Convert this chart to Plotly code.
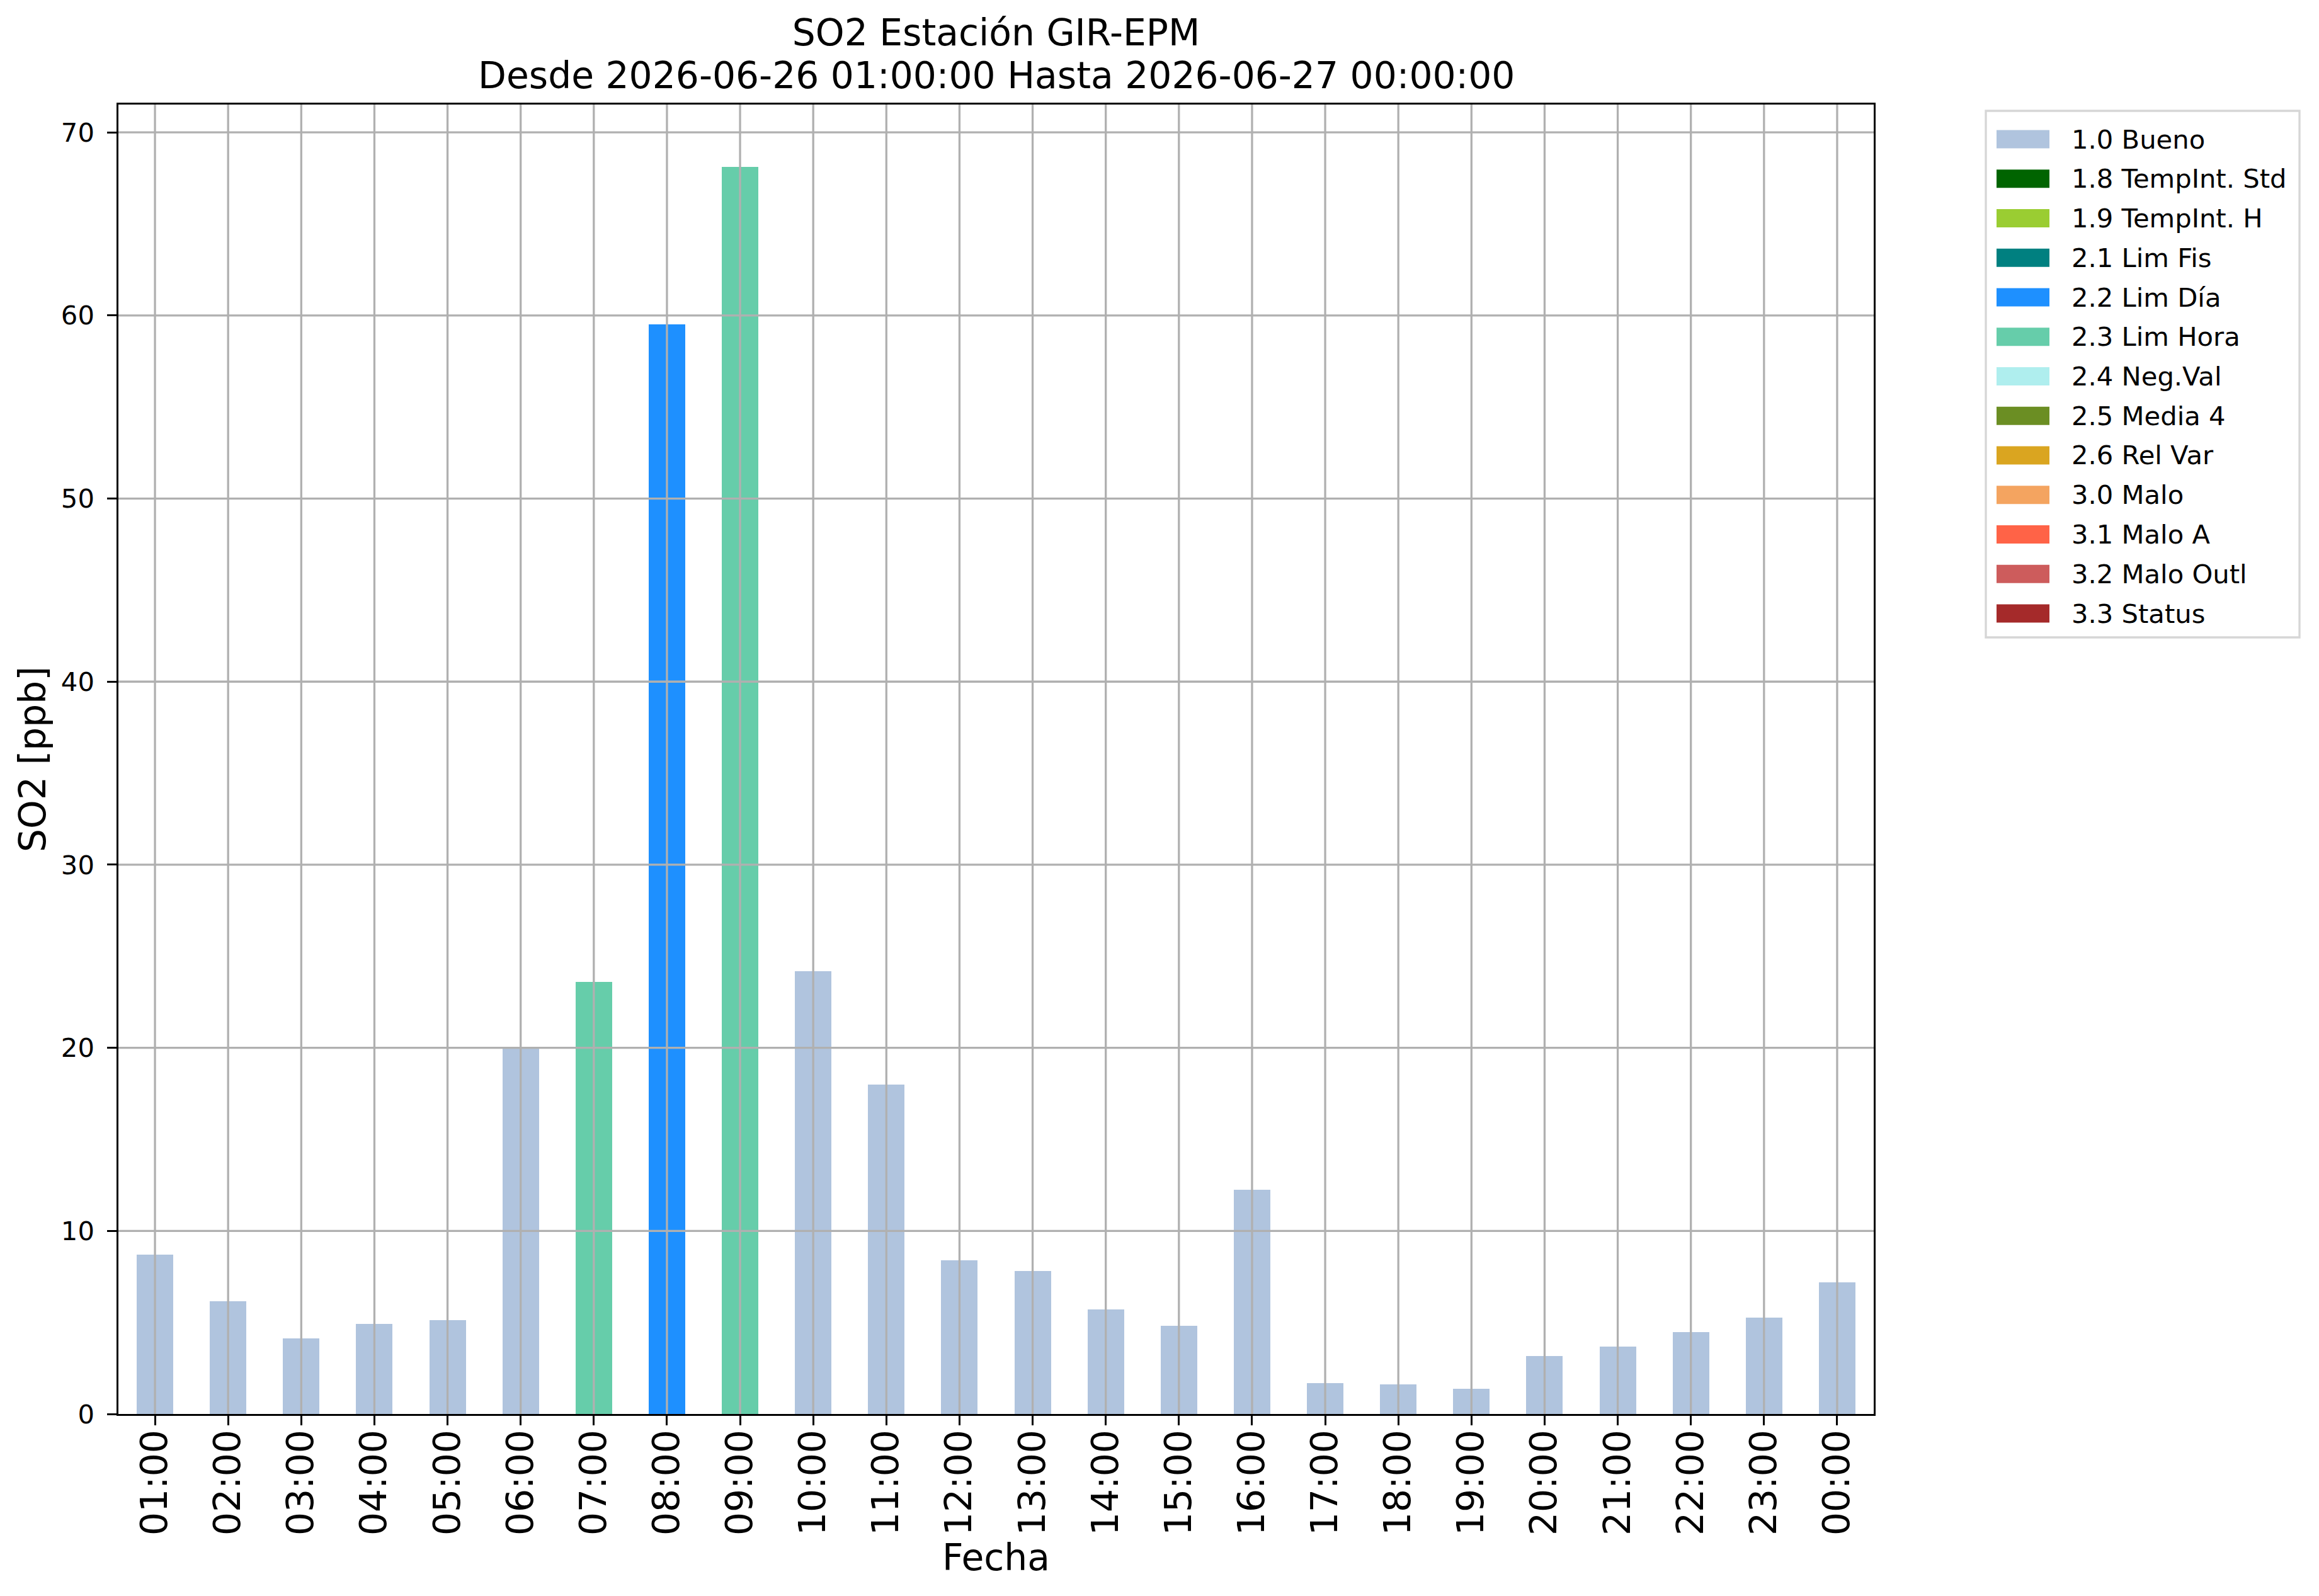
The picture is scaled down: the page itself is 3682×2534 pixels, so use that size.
import plotly.graph_objects as go

# ---------------- data ----------------
hours = ["01:00", "02:00", "03:00", "04:00", "05:00", "06:00", "07:00", "08:00",
         "09:00", "10:00", "11:00", "12:00", "13:00", "14:00", "15:00", "16:00",
         "17:00", "18:00", "19:00", "20:00", "21:00", "22:00", "23:00", "00:00"]
so2_ppb = [8.72, 6.15, 4.13, 4.92, 5.13, 19.97, 23.6, 59.52, 68.12, 24.2, 18.0, 8.39,
           7.80, 5.70, 4.80, 12.25, 1.70, 1.60, 1.36, 3.18, 3.67, 4.46, 5.25, 7.18]
flag_codes = ["1.0 Bueno", "1.0 Bueno", "1.0 Bueno", "1.0 Bueno", "1.0 Bueno", "1.0 Bueno",
              "2.3 Lim Hora", "2.2 Lim Día", "2.3 Lim Hora", "1.0 Bueno", "1.0 Bueno",
              "1.0 Bueno", "1.0 Bueno", "1.0 Bueno", "1.0 Bueno", "1.0 Bueno", "1.0 Bueno",
              "1.0 Bueno", "1.0 Bueno", "1.0 Bueno", "1.0 Bueno", "1.0 Bueno", "1.0 Bueno",
              "1.0 Bueno"]
categories = ["1.0 Bueno", "1.8 TempInt. Std", "1.9 TempInt. H", "2.1 Lim Fis", "2.2 Lim Día",
              "2.3 Lim Hora", "2.4 Neg.Val", "2.5 Media 4", "2.6 Rel Var", "3.0 Malo",
              "3.1 Malo A", "3.2 Malo Outl", "3.3 Status"]
category_colors = ["#B0C4DE", "#006400", "#9ACD32", "#008080", "#1E90FF", "#66CDAA",
                   "#AFEEEE", "#6B8E23", "#DAA520", "#F4A460", "#FF6347", "#CD5C5C",
                   "#A52A2A"]
y_ticks = [0, 10, 20, 30, 40, 50, 60, 70]

title_line1 = "SO2 Estación GIR-EPM"
title_line2 = "Desde 2026-06-26 01:00:00 Hasta 2026-06-27 00:00:00"

# ---------------- layout geometry (pixels) ----------------
W, H = 3682, 2534
L, R, T, B = 188, 2975, 166, 2245
FONT = "DejaVu Sans"
SMALL = 41.7
BIG = 58.3
GRID = "#b0b0b0"


def xp(px):
    return (px - L) / (R - L)


def yp(py):
    return (B - py) / (B - T)


fig = go.Figure()

for cat, col in zip(categories, category_colors):
    vals = [v if f == cat else None for v, f in zip(so2_ppb, flag_codes)]
    fig.add_trace(go.Bar(
        x=hours, y=vals, name=cat, width=0.5,
        marker=dict(color=col, line=dict(width=0)),
        showlegend=False,
    ))

# grid lines drawn above bars (as in the reference)
for i, _ in enumerate(hours):
    fig.add_shape(type="line", xref="x", yref="y domain", x0=i, x1=i, y0=0, y1=1,
                  line=dict(color=GRID, width=3.3), layer="above")
for t in y_ticks[1:]:
    fig.add_shape(type="line", xref="x domain", yref="y", x0=0, x1=1, y0=t, y1=t,
                  line=dict(color=GRID, width=3.3), layer="above")

# custom legend (matplotlib-like)
box_l, box_r, box_t, box_b = 3153, 3651, 176, 1012
fig.add_shape(type="rect", xref="paper", yref="paper",
              x0=xp(box_l), x1=xp(box_r), y0=yp(box_b), y1=yp(box_t),
              line=dict(color="#d6d6d6", width=3.3), fillcolor="white", layer="above")
row0, dy = 221, 62.75
for i, (cat, col) in enumerate(zip(categories, category_colors)):
    cy = row0 + i * dy
    fig.add_shape(type="rect", xref="paper", yref="paper",
                  x0=xp(3170), x1=xp(3254), y0=yp(cy + 14.5), y1=yp(cy - 14.5),
                  line=dict(width=0), fillcolor=col, layer="above")
    fig.add_annotation(xref="paper", yref="paper", x=xp(3287), y=yp(cy),
                       text=cat, showarrow=False, xanchor="left", yanchor="middle",
                       font=dict(family=FONT, size=SMALL, color="black"))

# second title line
fig.add_annotation(xref="paper", yref="paper", x=0.5, y=yp(120),
                   text=title_line2, showarrow=False, xanchor="center", yanchor="middle",
                   font=dict(family=FONT, size=BIG, color="black"))

fig.update_layout(
    width=W, height=H,
    margin=dict(l=L, r=W - R, t=T, b=H - B, autoexpand=False),
    paper_bgcolor="white", plot_bgcolor="white",
    barmode="stack", bargap=0.5,
    font=dict(family=FONT, size=SMALL, color="black"),
    title=dict(text=title_line1, x=0.5, xref="paper", xanchor="center",
               y=1 - 52 / H, yref="container", yanchor="middle",
               font=dict(family=FONT, size=BIG, color="black")),
    xaxis=dict(
        type="category", range=[-0.5, len(hours) - 0.5],
        showgrid=False, zeroline=False,
        showline=True, linecolor="black", linewidth=3.3, mirror=True,
        ticks="outside", ticklen=14.6, tickwidth=3.3, tickcolor="black",
        tickangle=-90, tickfont=dict(family=FONT, size=BIG, color="black"),
        ticklabelstandoff=-16,
        title=dict(text="Fecha", font=dict(family=FONT, size=BIG, color="black"), standoff=16),
        automargin=False,
    ),
    yaxis=dict(
        range=[0, 71.52], tickvals=y_ticks,
        showgrid=False, zeroline=False,
        showline=True, linecolor="black", linewidth=3.3, mirror=True,
        ticks="outside", ticklen=14.6, tickwidth=3.3, tickcolor="black",
        tickfont=dict(family=FONT, size=SMALL, color="black"),
        ticklabelstandoff=12,
        title=dict(text="SO2 [ppb]", font=dict(family=FONT, size=BIG, color="black"), standoff=6),
        automargin=False,
    ),
)

fig.write_html("out.html", config={"displayModeBar": False},
               post_script="document.body.style.margin='0px';")
